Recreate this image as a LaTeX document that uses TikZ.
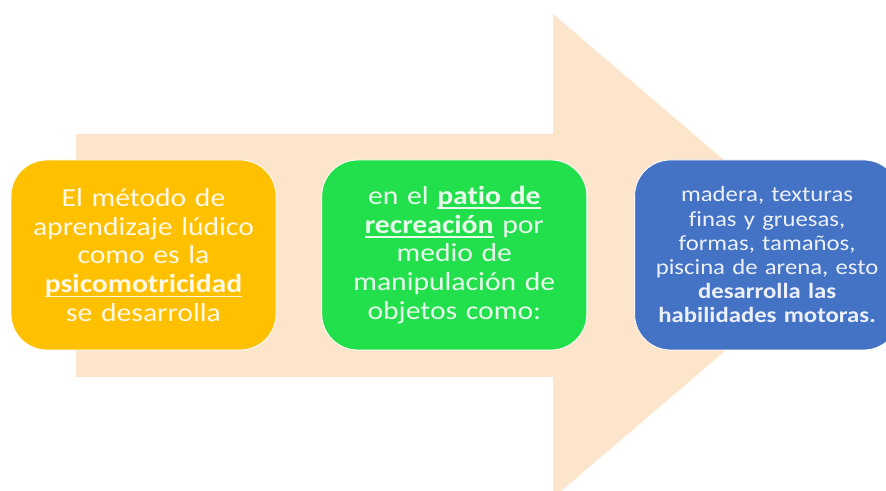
\documentclass[tikz,border=0pt]{standalone}
\usepackage{fontspec}
\setmainfont[FakeStretch=1.14, Ligatures=CommonOff]{Carlito}
\usepackage{tikz}
\usetikzlibrary{positioning}
\definecolor{peach}{HTML}{FDE5CC}
\definecolor{cardyellow}{HTML}{FFC000}
\definecolor{cardgreen}{HTML}{22E04B}
\definecolor{cardblue}{HTML}{4472C4}
\newcommand{\ulword}[1]{\leavevmode\setbox0\hbox{#1}\rlap{\rule[-4.5pt]{\wd0}{1.5pt}}\box0}
\tikzset{
  card/.style={draw=white, line width=0.8pt, rounded corners=36pt, minimum width=265pt, minimum height=190pt,
    align=center, text width=260pt, inner sep=0pt, text=white, text opacity=0.9,
    font=\fontsize{26}{28.8}\selectfont}
}

\begin{document}
\begin{tikzpicture}[x=1pt, y=1pt, node distance=45pt]
\clip (0,0) rectangle (886,490);
\useasboundingbox (0,0) rectangle (886,490);
% big arrow behind
\fill[peach] (76,356) -- (553,356) -- (553,476) -- (836,234) -- (553,-8) -- (553,113) -- (76,113) -- cycle;
% cards
\node[card, fill=cardyellow] (metodo) at (143.5,235) {El método de\\aprendizaje lúdico\\como es la\\\textbf{\ulword{psicomotricidad}}\\se desarrolla};
\node[card, fill=cardgreen, right=of metodo] (patio) {en el \textbf{\ulword{patio de}}\\\textbf{\ulword{recreación}} por\\medio de\\manipulación de\\objetos como:};
\node[card, fill=cardblue, right=47pt of patio, font=\fontsize{21.7}{24.2}\selectfont] (objetos) {madera, texturas\\finas y gruesas,\\formas, tamaños,\\piscina de arena, esto\\\textbf{desarrolla las}\\\textbf{habilidades motoras.}};
\end{tikzpicture}
\end{document}
